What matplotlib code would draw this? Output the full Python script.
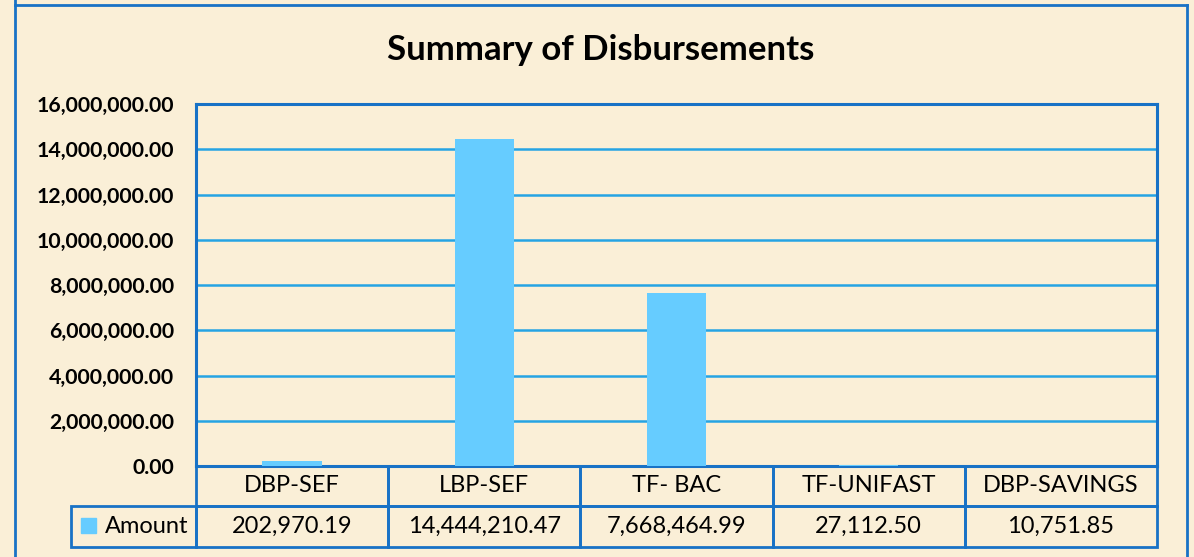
import matplotlib.pyplot as plt
from matplotlib.table import Table
from matplotlib.patches import Rectangle
from matplotlib.lines import Line2D
import numpy as np

# data
categories = ['DBP-SEF', 'LBP-SEF', 'TF- BAC', 'TF-UNIFAST', 'DBP-SAVINGS']
amounts = [202970.19, 14444210.47, 7668464.99, 27112.50, 10751.85]
series_name = 'Amount'
yticks = np.arange(0, 16000001, 2000000)

W, H = 1194, 557
bg = '#FAEFD7'
border = '#1872C6'
grid_c = '#25A4E3'
bar_c = '#66CCFF'
font = 'Lato'

fig = plt.figure(figsize=(W / 100, H / 100), dpi=100)
fig.patch.set_facecolor(bg)

# plot area in pixels: x 196..1157, y 104..466
pw, ph = 1157 - 196, 466 - 104
ax = fig.add_axes([196 / W, 1 - 466 / H, pw / W, ph / H])
ax.set_facecolor('none')

x = np.arange(len(categories))
ax.bar(x, amounts, width=0.31, color=bar_c, zorder=3)
ax.set_xlim(-0.5, len(categories) - 0.5)
ax.set_ylim(0, 16000000)
ax.set_yticks(yticks)
ax.set_yticklabels(['{:,.2f}'.format(v) for v in yticks],
                   fontfamily=font, fontweight='bold', fontsize=15.3)
ax.set_xticks([])
ax.tick_params(axis='y', length=0, pad=16)
ax.yaxis.grid(True, color=grid_c, lw=1.8)
ax.set_axisbelow(True)
for s in ax.spines.values():
    s.set_color(border)
    s.set_linewidth(2.2)


def style(tbl, size):
    tbl.auto_set_font_size(False)
    tbl.set_fontsize(size)
    for cell in tbl.get_celld().values():
        cell.set_edgecolor(border)
        cell.set_linewidth(2)
        cell.set_facecolor('none')
        cell.get_text().set_fontfamily(font)
    ax.add_table(tbl)


# data table under the plot
tbl = Table(ax, bbox=[0, -81 / ph, 1, 81 / ph])
for j, cat in enumerate(categories):
    tbl.add_cell(0, j, width=1, height=40, text=cat, loc='center')
    tbl.add_cell(1, j, width=1, height=41, text='{:,.2f}'.format(amounts[j]), loc='center')
style(tbl, 17)

# series label cell to the left of the table
lab_w = 125
lab = Table(ax, bbox=[-lab_w / pw, -81 / ph, lab_w / pw, 41 / ph])
c = lab.add_cell(0, 0, width=1, height=1, text=series_name, loc='right')
c.PAD = 0.06
style(lab, 17)

# legend key in the table
fig.add_artist(Rectangle((81 / W, 1 - 533 / H), 15 / W, 15 / H, color=bar_c,
                         transform=fig.transFigure))

# title
fig.text(601 / W, 1 - 50 / H, 'Summary of Disbursements', ha='center', va='center',
         fontfamily=font, fontweight='bold', fontsize=25)

# chart frame
fig.add_artist(Line2D([15 / W, 1187 / W], [1 - 5 / H, 1 - 5 / H], color=border, lw=2))
fig.add_artist(Line2D([15 / W, 15 / W], [0, 1], color=border, lw=2))
fig.add_artist(Line2D([1187 / W, 1187 / W], [0, 1 - 5 / H], color=border, lw=2))

fig.savefig('out.png', dpi=100, facecolor=bg)
